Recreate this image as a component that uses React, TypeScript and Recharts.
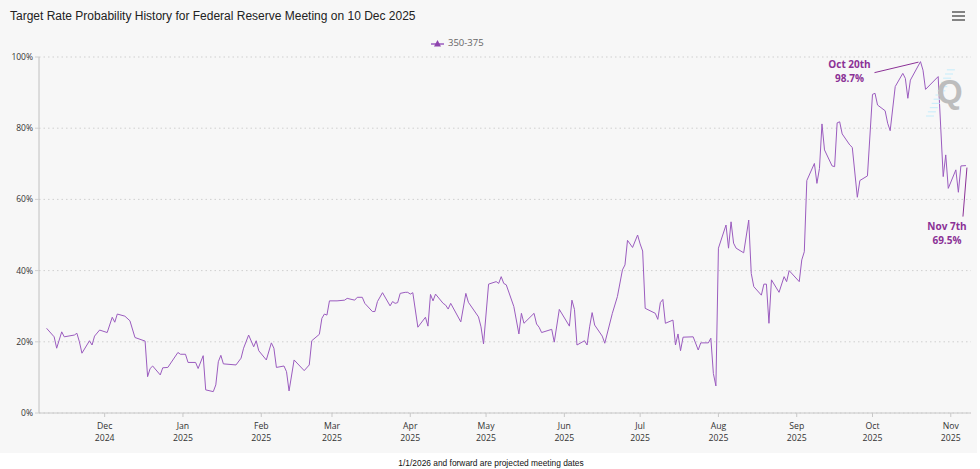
import React from 'react';
import { LineChart, Line, XAxis, YAxis, CartesianGrid, Legend, ReferenceDot } from 'recharts';

const seriesName = '350-375';

const dates = [
  '2024-11-08','2024-11-11','2024-11-12','2024-11-14','2024-11-15','2024-11-19','2024-11-20','2024-11-21','2024-11-22','2024-11-25',
  '2024-11-26','2024-11-27','2024-11-29','2024-12-02','2024-12-04','2024-12-05','2024-12-06','2024-12-09','2024-12-11','2024-12-13',
  '2024-12-17','2024-12-18','2024-12-19','2024-12-20','2024-12-23','2024-12-24','2024-12-26','2024-12-30','2024-12-31','2025-01-02',
  '2025-01-03','2025-01-06','2025-01-07','2025-01-09','2025-01-10','2025-01-13','2025-01-14','2025-01-15','2025-01-16','2025-01-17',
  '2025-01-22','2025-01-24','2025-01-25','2025-01-27','2025-01-29','2025-01-30','2025-01-31','2025-02-03','2025-02-05','2025-02-06',
  '2025-02-07','2025-02-10','2025-02-11','2025-02-12','2025-02-14','2025-02-18','2025-02-20','2025-02-21','2025-02-24','2025-02-25',
  '2025-02-26','2025-02-27','2025-02-28','2025-03-03','2025-03-06','2025-03-07','2025-03-10','2025-03-11','2025-03-13','2025-03-14',
  '2025-03-17','2025-03-18','2025-03-19','2025-03-21','2025-03-24','2025-03-25','2025-03-26','2025-03-27','2025-03-28','2025-03-30',
  '2025-03-31','2025-04-01','2025-04-02','2025-04-04','2025-04-07','2025-04-08','2025-04-09','2025-04-10','2025-04-11','2025-04-14',
  '2025-04-15','2025-04-16','2025-04-17','2025-04-21','2025-04-23','2025-04-24','2025-04-28','2025-04-29','2025-04-30','2025-05-02',
  '2025-05-05','2025-05-06','2025-05-07','2025-05-08','2025-05-09','2025-05-12','2025-05-14','2025-05-15','2025-05-16','2025-05-20',
  '2025-05-21','2025-05-22','2025-05-23','2025-05-27','2025-05-28','2025-05-30','2025-06-03','2025-06-04','2025-06-05','2025-06-06',
  '2025-06-09','2025-06-10','2025-06-11','2025-06-12','2025-06-13','2025-06-16','2025-06-17','2025-06-20','2025-06-22','2025-06-24',
  '2025-06-25','2025-06-26','2025-06-28','2025-06-30','2025-07-01','2025-07-02','2025-07-03','2025-07-07','2025-07-08','2025-07-09',
  '2025-07-10','2025-07-11','2025-07-14','2025-07-15','2025-07-16','2025-07-17','2025-07-18','2025-07-22','2025-07-24','2025-07-25',
  '2025-07-28','2025-07-29','2025-07-30','2025-07-31','2025-08-01','2025-08-04','2025-08-05','2025-08-06','2025-08-07','2025-08-08',
  '2025-08-11','2025-08-13','2025-08-14','2025-08-15','2025-08-18','2025-08-19','2025-08-20','2025-08-21','2025-08-22','2025-08-25',
  '2025-08-27','2025-08-28','2025-08-29','2025-09-02','2025-09-03','2025-09-04','2025-09-05','2025-09-08','2025-09-09','2025-09-10',
  '2025-09-11','2025-09-12','2025-09-15','2025-09-16','2025-09-17','2025-09-18','2025-09-19','2025-09-22','2025-09-23','2025-09-25',
  '2025-09-26','2025-09-29','2025-10-01','2025-10-02','2025-10-03','2025-10-06','2025-10-07','2025-10-08','2025-10-10','2025-10-13',
  '2025-10-14','2025-10-15','2025-10-16','2025-10-20','2025-10-21','2025-10-22','2025-10-27','2025-10-29','2025-10-30','2025-10-31',
  '2025-11-03','2025-11-04','2025-11-05','2025-11-07',
];

const probs = [
  23.8,21.4,18.2,22.8,21.4,21.9,22.4,20.0,16.8,20.3,
  19.1,21.6,23.3,22.6,26.9,25.5,27.8,27.2,25.9,21.2,
  20.2,10.2,12.5,13.2,10.7,12.7,12.8,17.0,16.5,16.5,
  14.2,14.2,12.5,16.1,6.5,6.0,7.9,14.4,16.2,13.8,
  13.5,15.4,18.2,21.9,18.6,20.3,17.5,14.9,19.7,18.2,
  12.8,13.2,11.6,6.2,14.9,11.9,13.5,20.3,22.1,26.6,
  27.8,27.5,31.5,31.5,31.7,32.2,31.7,32.5,32.5,30.8,
  28.5,28.5,31.3,33.8,30.1,31.3,30.8,31.0,33.6,33.9,
  33.9,33.4,33.8,24.1,26.9,24.4,33.3,31.5,33.4,30.8,
  30.3,29.2,30.8,25.6,33.6,31.1,27.0,24.2,19.4,36.2,
  36.9,36.4,38.3,36.4,36.0,29.9,22.2,28.0,25.2,28.0,
  25.0,24.1,22.6,23.5,19.9,29.1,24.4,31.7,29.1,19.1,
  20.3,19.1,24.2,28.2,24.7,21.6,19.6,28.0,32.7,40.2,
  41.6,48.5,46.5,50.0,47.5,45.5,29.4,28.0,26.3,31.0,
  31.9,25.2,26.1,19.1,22.2,17.5,21.3,21.4,17.7,19.7,
  19.7,21.0,11.1,7.6,46.3,52.8,46.3,53.7,47.7,46.3,
  45.0,54.2,39.2,35.5,33.1,36.2,36.2,25.2,37.4,33.9,
  38.3,36.9,40.0,36.9,43.0,45.3,65.3,70.1,64.5,68.7,
  81.2,73.9,69.4,69.2,81.5,81.8,78.4,75.3,74.6,60.6,
  65.3,66.6,89.5,89.8,86.5,84.9,81.4,79.3,91.7,95.4,
  94.0,88.4,93.5,98.7,96.3,90.9,94.5,66.4,72.5,63.1,
  68.3,62.0,69.4,69.5,
];

const tickDates = ['2024-12-01','2025-01-01','2025-02-01','2025-03-01','2025-04-01','2025-05-01','2025-06-01','2025-07-01','2025-08-01','2025-09-01','2025-10-01','2025-11-01'];
const tickMonths = ['Dec','Jan','Feb','Mar','Apr','May','Jun','Jul','Aug','Sep','Oct','Nov'];
const tickYears = ['2024','2025','2025','2025','2025','2025','2025','2025','2025','2025','2025','2025'];
const yTicks = [0, 20, 40, 60, 80, 100];
const xDomain = ['2024-11-05', '2025-11-09'];

const annotationDates = ['2025-10-20', '2025-11-07'];
const annotationValues = [98.7, 69.5];
const annotationTitles = ['Oct 20th', 'Nov 7th'];

const titleText = 'Target Rate Probability History for Federal Reserve Meeting on 10 Dec 2025';
const footText = '1/1/2026 and forward are projected meeting dates';

const LINE = '#9b5cbf';
const ANN = '#8b3196';

const toT = (d: string) => Date.parse(d + 'T00:00:00Z');
const data = dates.map((d, i) => ({ t: toT(d), p: probs[i] }));
const tickTimes = tickDates.map(toT);

// label layout per annotation (offsets from point, px)
const annLayout = [
  { tx: -71, ty1: 6, ty2: 20, lx1: -46, ly1: 11, lx2: -2, ly2: 0.5 },
  { tx: -19, ty1: 64, ty2: 78, lx1: -3, ly1: 51, lx2: 1, ly2: 2 },
];

const MonthTick = (props: any) => {
  const { x, y, payload } = props;
  const i = tickTimes.indexOf(payload.value);
  return (
    <g>
      <text x={x} y={y + 9.5} textAnchor="middle" fontSize={8.7} fill="#333" fontFamily="Open Sans">{tickMonths[i]}</text>
      <text x={x} y={y + 21.5} textAnchor="middle" fontSize={8.7} fill="#333" fontFamily="Open Sans">{tickYears[i]}</text>
    </g>
  );
};

const renderLegend = () => (
  <div style={{ display: 'flex', alignItems: 'center', fontFamily: 'Open Sans', fontSize: 9.5, color: '#666', whiteSpace: 'nowrap' }}>
    <svg width={15} height={10} style={{ display: 'block' }}>
      <line x1={1} y1={6} x2={14} y2={6} stroke={LINE} strokeWidth={1.5} />
      <path d="M7.5 2 L11 8.5 L4 8.5 Z" fill="#8e44ad" />
    </svg>
    <span style={{ marginLeft: 3 }}>{seriesName}</span>
  </div>
);

const AnnShape = (props: any) => {
  const { cx, cy, idx } = props;
  const L = annLayout[idx];
  if (cx == null || cy == null) return null;
  return (
    <g>
      <line x1={cx + L.lx1} y1={cy + L.ly1} x2={cx + L.lx2} y2={cy + L.ly2} stroke={ANN} strokeWidth={1} />
      <text x={cx + L.tx} y={cy + L.ty1} textAnchor="middle" fontSize={10} fontWeight="bold" fill={ANN} fontFamily="Open Sans">
        {annotationTitles[idx]}
      </text>
      <text x={cx + L.tx} y={cy + L.ty2} textAnchor="middle" fontSize={10} fontWeight="bold" fill={ANN} fontFamily="Open Sans">
        {annotationValues[idx].toFixed(1) + '%'}
      </text>
    </g>
  );
};

export default function App() {
  const hatch = [0, 1, 2, 3, 4, 5, 6, 7, 8, 9, 10, 11];
  return (
    <div style={{ position: 'absolute', left: 0, top: 0, width: 980, height: 469, background: '#fff' }}>
      <div style={{ position: 'absolute', left: 0, top: 0, width: 977, height: 453, background: '#f7f7f7' }}>
        <LineChart width={977} height={453} data={data} margin={{ top: 57, right: 6, left: 0, bottom: 0 }}>
          <CartesianGrid vertical={false} stroke="#cfcfcf" strokeDasharray="1.5 3" />
          <XAxis
            dataKey="t"
            type="number"
            domain={[toT(xDomain[0]), toT(xDomain[1])]}
            ticks={tickTimes}
            tick={<MonthTick />}
            height={40}
            tickSize={4}
            axisLine={{ stroke: '#c8c8c8' }}
            tickLine={{ stroke: '#c8c8c8' }}
            interval={0}
          />
          <YAxis
            type="number"
            domain={[0, 100]}
            ticks={yTicks}
            width={39}
            tickSize={4}
            tickFormatter={(v: number) => v + '%'}
            tick={{ fontSize: 8.5, fill: '#333', fontFamily: 'Open Sans' }}
            axisLine={{ stroke: '#c0c0c0' }}
            tickLine={{ stroke: '#d0d0d0' }}
          />
          <Legend
            layout="horizontal"
            verticalAlign="middle"
            align="center"
            wrapperStyle={{ top: 36, left: 430, width: 'auto' }}
            content={renderLegend}
          />
          <Line
            type="linear"
            dataKey="p"
            name={seriesName}
            stroke={LINE}
            strokeWidth={1}
            dot={false}
            activeDot={false}
            isAnimationActive={false}
          />
          {annotationDates.map((d, i) => (
            <ReferenceDot
              key={d}
              x={toT(d)}
              y={annotationValues[i]}
              r={1}
              shape={(p: any) => <AnnShape {...p} idx={i} />}
            />
          ))}
        </LineChart>
      </div>
      <svg width={980} height={469} style={{ position: 'absolute', left: 0, top: 0, pointerEvents: 'none' }}>
        <text x={10} y={19.5} fontSize={12} fontFamily="Liberation Sans, Arial" fill="#222">{titleText}</text>
        <g stroke="#666" strokeWidth={1.6}>
          <line x1={952} y1={12} x2={965} y2={12} />
          <line x1={952} y1={16} x2={965} y2={16} />
          <line x1={952} y1={20} x2={965} y2={20} />
        </g>
        <g stroke="#cdeefa" strokeWidth={1.2}>
          {hatch.map((k) => (
            <line key={k} x1={926 + k * 1.9} y1={116 - k * 4.2} x2={934 + k * 1.9} y2={116 - k * 4.2} />
          ))}
        </g>
        <text x={937} y={103} fontSize={33} fontWeight="bold" fontFamily="Liberation Sans, Arial" fill="#bdbdbd">Q</text>
        <text x={491} y={466} textAnchor="middle" fontSize={8.4} fontFamily="Liberation Sans, Arial" fill="#111">{footText}</text>
      </svg>
    </div>
  );
}
